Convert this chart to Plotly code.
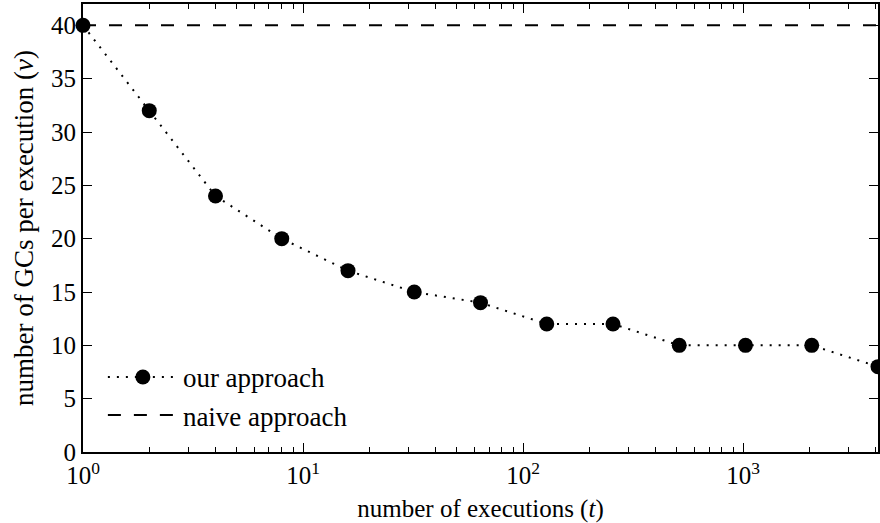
import plotly.graph_objects as go

executions = [1, 2, 4, 8, 16, 32, 64, 128, 256, 512, 1024, 2048, 4096]
gcs_ours = [40, 32, 24, 20, 17, 15, 14, 12, 12, 10, 10, 10, 8]
naive_value = 40
x_tick_vals = [1, 10, 100, 1000]
x_tick_text = ["10<sup>0</sup>", "10<sup>1</sup>", "10<sup>2</sup>", "10<sup>3</sup>"]
x_minor_vals = [m * d for d in [1, 10, 100, 1000] for m in range(2, 10)]
y_tick_vals = [0, 5, 10, 15, 20, 25, 30, 35, 40]

FONT = "Liberation Serif"

fig = go.Figure()
fig.add_trace(go.Scatter(
    x=executions, y=gcs_ours, mode="lines+markers", name="our approach",
    line=dict(color="black", width=2, dash="2px,7px"),
    marker=dict(color="black", size=15),
    cliponaxis=False,
))
fig.add_trace(go.Scatter(
    x=[executions[0], executions[-1]], y=[naive_value, naive_value], mode="lines",
    name="naive approach",
    line=dict(color="black", width=2, dash="13px,13px"),
))

axis_common = dict(
    showline=True, linecolor="black", linewidth=2, mirror="allticks",
    ticks="inside", tickcolor="black", tickwidth=1, showgrid=False, zeroline=False,
    tickfont=dict(family=FONT, size=25, color="black"),
)
fig.update_xaxes(
    type="log", range=[0, 3.6124], tickvals=x_tick_vals, ticktext=x_tick_text,
    ticklen=9,
    minor=dict(ticks="inside", ticklen=5, tickcolor="black", tickwidth=1,
               showgrid=False, tickvals=x_minor_vals),
    title=dict(text="number of executions (<i>t</i>)",
               font=dict(family=FONT, size=25, color="black"), standoff=11),
    **axis_common,
)
fig.update_yaxes(
    range=[0, 42], tickvals=y_tick_vals, ticklen=9,
    title=dict(text="number of GCs per execution (<i>ν</i>)",
               font=dict(family=FONT, size=27, color="black"), standoff=10),
    **axis_common,
)
fig.update_layout(
    width=880, height=523,
    margin=dict(l=83, r=0, t=4, b=71),
    plot_bgcolor="white", paper_bgcolor="white",
    showlegend=True,
    legend=dict(x=0.025, y=0.027, xanchor="left", yanchor="bottom",
                bgcolor="rgba(0,0,0,0)", borderwidth=0,
                font=dict(family=FONT, size=27, color="black"),
                itemwidth=70, tracegroupgap=6),
    font=dict(family=FONT),
)
fig.write_html("out.html")
